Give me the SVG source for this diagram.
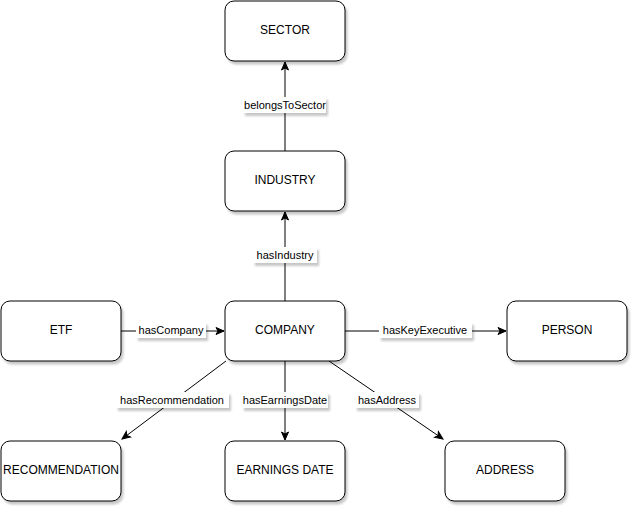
<svg xmlns="http://www.w3.org/2000/svg" width="638" height="513" viewBox="0 0 638 513">
<style>
.node rect{fill:#fff;stroke:#000;stroke-width:1;filter:url(#sh)}
.node text{font-family:"Liberation Sans",Arial,sans-serif;font-size:12px;fill:#000;text-anchor:middle;dominant-baseline:central}
.edge line{stroke:#000;stroke-width:1;fill:none}
.lbl rect{fill:#fff;filter:url(#sh)}
.lbl text{font-family:"Liberation Sans",Arial,sans-serif;font-size:11px;fill:#000;text-anchor:middle;dominant-baseline:central}
</style>
<defs>
<filter id="sh" x="-20%" y="-20%" width="140%" height="150%">
<feDropShadow dx="2" dy="3" stdDeviation="1.2" flood-color="#000" flood-opacity="0.22"/>
</filter>
<marker id="arr" markerWidth="10" markerHeight="10" refX="9" refY="5" orient="auto" markerUnits="userSpaceOnUse">
<path d="M1,1.5 L9,5 L1,8.5 L3,5 Z" fill="#000" stroke="#000" stroke-width="1"/>
</marker>
</defs>
<g id="connectors">
<g class="edge">
<line x1="285" y1="151" x2="285" y2="62" marker-end="url(#arr)"/>
<line x1="285" y1="301" x2="285" y2="212" marker-end="url(#arr)"/>
<line x1="121" y1="331" x2="224" y2="331" marker-end="url(#arr)"/>
<line x1="345" y1="331" x2="506" y2="331" marker-end="url(#arr)"/>
<line x1="226" y1="361" x2="122" y2="439" marker-end="url(#arr)"/>
<line x1="285" y1="361" x2="285" y2="440" marker-end="url(#arr)"/>
<line x1="329" y1="361" x2="443" y2="439" marker-end="url(#arr)"/>
</g>
<g class="lbl">
<rect x="243" y="97" width="83" height="16"/><text x="285" y="105">belongsToSector</text>
<rect x="253" y="247" width="64" height="16"/><text x="285" y="255">hasIndustry</text>
<rect x="136" y="322" width="70" height="16"/><text x="171" y="330">hasCompany</text>
<rect x="379" y="322" width="93" height="16"/><text x="425" y="330">hasKeyExecutive</text>
<rect x="116" y="392" width="113" height="16"/><text x="172" y="400">hasRecommendation</text>
<rect x="242" y="392" width="86" height="16"/><text x="285" y="400">hasEarningsDate</text>
<rect x="355" y="392" width="64" height="16"/><text x="387" y="400">hasAddress</text>
</g>
</g>
<g id="SECTOR" class="node"><rect x="225" y="1" width="120" height="60" rx="9"/><text x="285" y="30">SECTOR</text></g>
<g id="INDUSTRY" class="node"><rect x="225" y="151" width="120" height="60" rx="9"/><text x="285" y="180">INDUSTRY</text></g>
<g id="COMPANY" class="node"><rect x="225" y="301" width="120" height="60" rx="9"/><text x="285" y="330">COMPANY</text></g>
<g id="ETF" class="node"><rect x="1" y="301" width="120" height="60" rx="9"/><text x="61" y="330">ETF</text></g>
<g id="PERSON" class="node"><rect x="507" y="301" width="120" height="60" rx="9"/><text x="567" y="330">PERSON</text></g>
<g id="RECOMMENDATION" class="node"><rect x="1" y="441" width="120" height="60" rx="9"/><text x="61" y="470">RECOMMENDATION</text></g>
<g id="EARNINGS_DATE" class="node"><rect x="225" y="441" width="120" height="60" rx="9"/><text x="285" y="470">EARNINGS DATE</text></g>
<g id="ADDRESS" class="node"><rect x="445" y="441" width="120" height="60" rx="9"/><text x="505" y="470">ADDRESS</text></g>
</svg>
